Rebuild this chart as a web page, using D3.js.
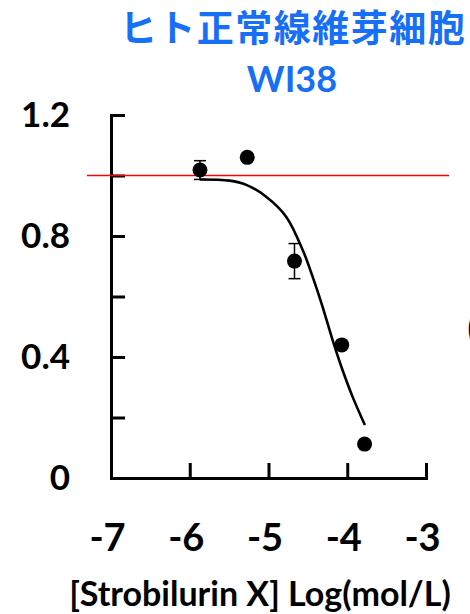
<!DOCTYPE html>
<html>
<head>
<meta charset="utf-8">
<script src="https://cdn.jsdelivr.net/npm/d3@7"></script>
<style>
  html, body { margin: 0; padding: 0; background: #fff; overflow: hidden; }
  svg { display: block; }
  .num { font-family: Lato, "Open Sans", sans-serif; font-weight: bold; fill: #000; }
</style>
</head>
<body>
<div id="chart"></div>
<script>
"use strict";

// values
var xTicks = [-7, -6, -5, -4, -3];
var yTicks = [0, 0.2, 0.4, 0.6, 0.8, 1.0, 1.2];
var yLabels = [0, 0.4, 0.8, 1.2];
var doseLog = [-5.87, -5.27, -4.67, -4.07, -3.78];
var viability = [1.018, 1.06, 0.717, 0.44, 0.112];
var errors = [0.031, 0, 0.058, 0, 0];
var fitX = [-5.873, -5.494, -5.282, -5.03, -4.776, -4.566, -4.439, -4.313, -4.186, -4.06, -3.933, -3.776];
var fitY = [0.987, 0.983, 0.969, 0.930, 0.864, 0.754, 0.665, 0.566, 0.456, 0.357, 0.269, 0.175];
var control = 1.0;

var width = 470, height = 614;

var svg = d3.select("#chart").append("svg")
  .attr("width", width)
  .attr("height", height);

var x = d3.scaleLinear().domain([-7, -3]).range([111, 426]);
var y = d3.scaleLinear().domain([0, 1.2]).range([478, 115]);

// title
svg.append("text")
  .attr("x", 293).attr("y", 42)
  .attr("text-anchor", "middle")
  .style("font-family", "'Noto Sans CJK JP', sans-serif")
  .style("font-weight", "bold")
  .style("font-size", "37px")
  .style("letter-spacing", "1.5px")
  .style("fill", "#166ff5")
  .text("ヒト正常線維芽細胞");

svg.append("text")
  .attr("x", 292).attr("y", 92)
  .attr("text-anchor", "middle")
  .attr("class", "num")
  .style("font-size", "36px")
  .style("fill", "#166ff5")
  .text("WI38");

// y axis
var yAxis = d3.axisLeft(y)
  .tickValues(yTicks)
  .tickSizeInner(-14)
  .tickSizeOuter(0)
  .tickPadding(41)
  .tickFormat(function(d) {
    return yLabels.indexOf(d) >= 0 ? String(d) : "";
  });

var gy = svg.append("g").attr("transform", "translate(111,0)").call(yAxis);

// x axis
var xAxis = d3.axisBottom(x)
  .tickValues(xTicks)
  .tickSizeInner(-15)
  .tickSizeOuter(0)
  .tickPadding(46)
  .tickFormat(function(d) { return String(d); });

var gx = svg.append("g").attr("transform", "translate(0,478)").call(xAxis);

[gy, gx].forEach(function(g) {
  g.select(".domain").attr("stroke", "#000").attr("stroke-width", 3).attr("stroke-linecap", "square");
  g.selectAll(".tick line").attr("stroke", "#000").attr("stroke-width", 3);
  g.selectAll(".tick text").attr("class", "num").attr("fill", "#000");
});
gy.selectAll(".tick text").style("font-size", "35px");
gx.selectAll(".tick text").style("font-size", "38px").attr("dx", -4);

svg.append("text")
  .attr("x", 260).attr("y", 606)
  .attr("text-anchor", "middle")
  .attr("class", "num")
  .style("font-size", "34px")
  .text("[Strobilurin X] Log(mol/L)");

// control line
svg.append("line")
  .attr("x1", 87).attr("x2", 449)
  .attr("y1", y(control)).attr("y2", y(control))
  .attr("stroke", "#ff0000")
  .attr("stroke-width", 1.5);

// fitted curve
var fit = fitX.map(function(v, i) { return [v, fitY[i]]; });
var line = d3.line()
  .x(function(d) { return x(d[0]); })
  .y(function(d) { return y(d[1]); })
  .curve(d3.curveCatmullRom);

svg.append("path")
  .datum(fit)
  .attr("d", line)
  .attr("fill", "none")
  .attr("stroke", "#000")
  .attr("stroke-width", 2.6);

// points with error bars
var pts = doseLog.map(function(v, i) { return {x: v, y: viability[i], e: errors[i]}; });

var eb = svg.append("g").selectAll("g")
  .data(pts.filter(function(d) { return d.e > 0; }))
  .enter().append("g")
  .attr("stroke", "#000")
  .attr("stroke-width", 1.5);

eb.append("line")
  .attr("x1", function(d) { return x(d.x); })
  .attr("x2", function(d) { return x(d.x); })
  .attr("y1", function(d) { return y(d.y + d.e); })
  .attr("y2", function(d) { return y(d.y - d.e); });

[1, -1].forEach(function(s) {
  eb.append("line")
    .attr("x1", function(d) { return x(d.x) - 6; })
    .attr("x2", function(d) { return x(d.x) + 6; })
    .attr("y1", function(d) { return y(d.y + s * d.e); })
    .attr("y2", function(d) { return y(d.y + s * d.e); });
});

svg.append("g").selectAll("circle")
  .data(pts)
  .enter().append("circle")
  .attr("cx", function(d) { return x(d.x); })
  .attr("cy", function(d) { return y(d.y); })
  .attr("r", 7.5)
  .attr("fill", "#000");

// cut off character at right edge
svg.append("text")
  .attr("x", 467).attr("y", 342)
  .attr("class", "num")
  .style("font-size", "40px")
  .style("font-weight", "normal")
  .text("(");
</script>
</body>
</html>
